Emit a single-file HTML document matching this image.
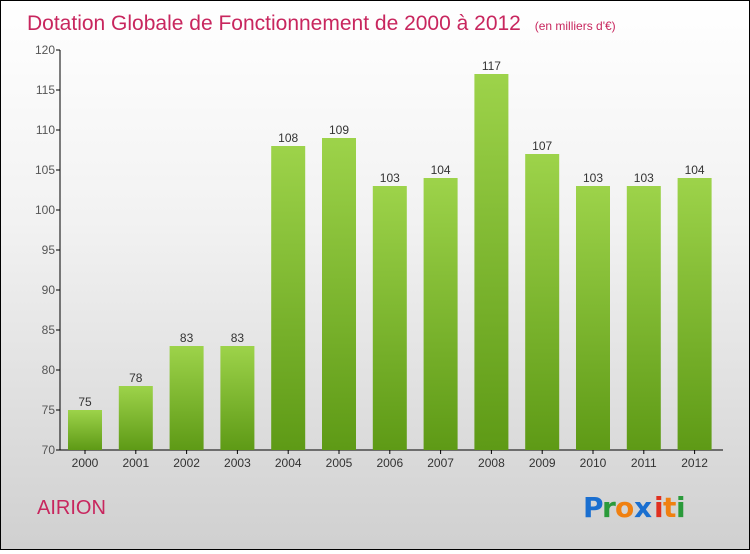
<!DOCTYPE html>
<html><head><meta charset="utf-8"><style>
body{margin:0;width:750px;height:550px;overflow:hidden;font-family:"Liberation Sans",sans-serif}
#c{position:absolute;left:0;top:0;width:748px;height:548px;border:1px solid #000;background:linear-gradient(#fff 0%,#f2f2f2 40%,#d0d0d0 100%)}
</style></head><body>
<div id="c">
<svg width="748" height="548">
<defs><linearGradient id="g" x1="0" y1="0" x2="0" y2="1"><stop offset="0" stop-color="#9dd34a"/><stop offset="1" stop-color="#5e9a16"/></linearGradient></defs>
<text x="26" y="29" font-size="21" fill="#c8265e">Dotation Globale de Fonctionnement de 2000 à 2012 <tspan font-size="12" dx="8">(en milliers d'€)</tspan></text>
<g id="axes"></g><g id="bars"></g>
<text x="36" y="513" font-size="20" fill="#c8265e">AIRION</text>
<g font-size="28" font-weight="bold" font-family="'DejaVu Sans',sans-serif">
<text x="582" y="516" fill="#1a6fd0">P</text><text x="601" y="516" fill="#2a9a3a">r</text><text x="614" y="516" fill="#f08010">o</text><text x="633" y="516" fill="#1a6fd0">x</text><text x="653" y="516" fill="#e03020">i</text><text x="662" y="516" fill="#f08010">t</text><text x="675" y="516" fill="#2a9a3a">i</text>
</g>
</svg></div>
<script>
const categories=["2000","2001","2002","2003","2004","2005","2006","2007","2008","2009","2010","2011","2012"];
const values=[75,78,83,83,108,109,103,104,117,107,103,103,104];
const ticks=[70,75,80,85,90,95,100,105,110,115,120];
const ns="http://www.w3.org/2000/svg";
const y=v=>449-(v-70)*8;
const x=i=>84+i*50.8;
const ax=document.getElementById('axes'),bg=document.getElementById('bars');
function mk(t,a,p){const e=document.createElementNS(ns,t);for(const k in a)e.setAttribute(k,a[k]);p.appendChild(e);return e;}
let l=mk('line',{x1:59,y1:y(120),x2:59,y2:449,stroke:'#000'},ax);


l=mk('line',{x1:59,y1:449,x2:722,y2:449,stroke:'#000'},ax);


ticks.forEach(t=>{mk('line',{x1:55,y1:y(t),x2:59,y2:y(t),stroke:'#000'},ax);
const e=mk('text',{x:54,y:y(t)+4,'font-size':12,fill:'#555','text-anchor':'end'},ax);e.textContent=t;

});
categories.forEach((c,i)=>{const cx=x(i);
mk('line',{x1:cx,y1:449,x2:cx,y2:453,stroke:'#000'},ax);
const tl=mk('text',{x:cx,y:466,'font-size':12,fill:'#333','text-anchor':'middle'},ax);tl.textContent=c;


const r=mk('rect',{x:cx-17,y:y(values[i]),width:34,height:449-y(values[i]),fill:'url(#g)'},bg);


const v=mk('text',{x:cx,y:y(values[i])-4,'font-size':12,fill:'#333','text-anchor':'middle'},bg);v.textContent=values[i];

});
</script>
</body></html>
